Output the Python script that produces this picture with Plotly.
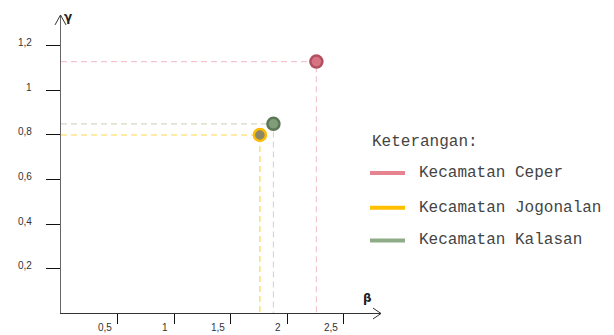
import plotly.graph_objects as go

# ---- data ----
kecamatan = ["Kecamatan Ceper", "Kecamatan Jogonalan", "Kecamatan Kalasan"]
beta_vals = [2.26, 1.76, 1.88]
gamma_vals = [1.13, 0.80, 0.85]
x_tickvals = [0.5, 1, 1.5, 2, 2.5]
x_ticktext = ["0,5", "1", "1,5", "2", "2,5"]
y_tickvals = [0.2, 0.4, 0.6, 0.8, 1.0, 1.2]
y_ticktext = ["0,2", "0,4", "0,6", "0,8", "1", "1,2"]
legend_title = "Keterangan:"

# ---- styles ----
W, H = 614, 335
L, R, T, B = 61, 233, 15, 20
PW, PH = W - L - R, H - T - B
XPX_PER_UNIT, YPX_PER_UNIT = 113, 224
guide_colors = ["#f4c5ce", "#ffd54f", "#d6d9c2"]
marker_fill = ["#d67483", "#8c8766", "#7f9d76"]
marker_edge = ["#b3505f", "#fbbc05", "#5b7757"]
legend_colors = ["#e5848f", "#ffc000", "#8fac88"]


def px(xp):
    return (xp - L) / PW


def py(yp):
    return (H - B - yp) / PH


fig = go.Figure()

# dashed guide lines to the axes
for i in range(len(kecamatan)):
    fig.add_trace(go.Scatter(
        x=[0, beta_vals[i], beta_vals[i]], y=[gamma_vals[i], gamma_vals[i], 0],
        mode="lines", line=dict(color=guide_colors[i], width=1.2, dash="6px,4px"),
        hoverinfo="skip", showlegend=False, cliponaxis=False))

# points
fig.add_trace(go.Scatter(
    x=beta_vals, y=gamma_vals, mode="markers", text=kecamatan,
    marker=dict(size=12, color=marker_fill, line=dict(color=marker_edge, width=2.5)),
    showlegend=False, cliponaxis=False))

shapes = []
annotations = []

# axis arrowheads
shapes.append(dict(type="path", xref="paper", yref="paper",
                   path=f"M{px(55)},{py(25)} L{px(60.5)},{py(15)} L{px(66)},{py(25)}",
                   line=dict(color="#333333", width=1)))
shapes.append(dict(type="path", xref="paper", yref="paper",
                   path=f"M{px(373)},{py(310)} L{px(381)},{py(315.5)} L{px(373)},{py(321)}",
                   line=dict(color="#333333", width=1)))

# tick labels
for v, t in zip(x_tickvals, x_ticktext):
    annotations.append(dict(x=v, y=0, xref="x", yref="y", text=t, showarrow=False,
                            xanchor="right", yanchor="middle", xshift=-4, yshift=-14,
                            font=dict(family="Liberation Sans", size=10, color="#333333")))
for v, t in zip(y_tickvals, y_ticktext):
    annotations.append(dict(x=0, y=v, xref="x", yref="y", text=t, showarrow=False,
                            xanchor="right", yanchor="middle", xshift=-27, yshift=3,
                            font=dict(family="Liberation Sans", size=10, color="#333333")))

# axis titles
annotations.append(dict(x=px(68), y=py(17), xref="paper", yref="paper", text="<b>γ</b>",
                        showarrow=False, xanchor="center", yanchor="middle",
                        font=dict(family="DejaVu Sans", size=12, color="#222222")))
annotations.append(dict(x=px(367), y=py(300), xref="paper", yref="paper", text="<b>β</b>",
                        showarrow=False, xanchor="center", yanchor="middle",
                        font=dict(family="DejaVu Sans", size=12, color="#222222")))

# legend
mono = dict(family="Liberation Mono", size=16, color="#444444")
annotations.append(dict(x=px(370), y=py(143), xref="paper", yref="paper", text=legend_title,
                        showarrow=False, xanchor="left", yanchor="middle", font=mono))
leg_y = [174, 209, 242]
for i, name in enumerate(kecamatan):
    shapes.append(dict(type="line", xref="paper", yref="paper",
                       x0=px(370), x1=px(405), y0=py(leg_y[i]), y1=py(leg_y[i]),
                       line=dict(color=legend_colors[i], width=4)))
    annotations.append(dict(x=px(417), y=py(leg_y[i]), xref="paper", yref="paper", text=name,
                            showarrow=False, xanchor="left", yanchor="middle", font=mono))

fig.update_layout(
    width=W, height=H,
    margin=dict(l=L, r=R, t=T, b=B),
    paper_bgcolor="white", plot_bgcolor="white",
    showlegend=False,
    shapes=shapes, annotations=annotations,
    xaxis=dict(range=[0, PW / XPX_PER_UNIT], showgrid=False, zeroline=False,
               showline=True, linecolor="#333333", linewidth=1,
               tickvals=x_tickvals, ticks="outside", ticklen=10, tickcolor="#111111",
               tickwidth=1, showticklabels=False, fixedrange=True),
    yaxis=dict(range=[0, PH / YPX_PER_UNIT], showgrid=False, zeroline=False,
               showline=True, linecolor="#666666", linewidth=1,
               tickvals=y_tickvals, ticks="outside", ticklen=14, tickcolor="#111111",
               tickwidth=1, showticklabels=False, fixedrange=True),
)

fig.write_html("out.html", config={"displayModeBar": False},
               post_script="document.body.style.margin='0';document.body.style.overflow='hidden';")
